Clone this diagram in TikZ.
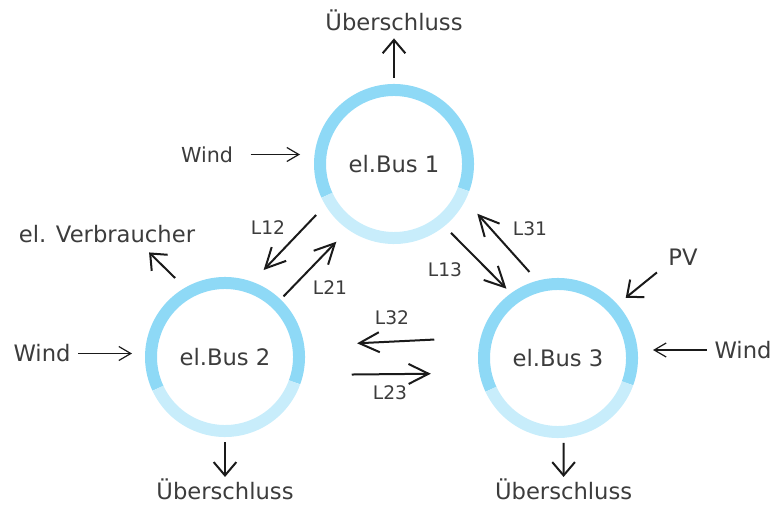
\documentclass[tikz,border=0pt]{standalone}
\usepackage{fontspec}
\setmainfont{DejaVu Sans}
\usetikzlibrary{arrows.meta,positioning}
\definecolor{ringtop}{HTML}{8ED9F6}
\definecolor{ringbot}{HTML}{C8EDFB}
\definecolor{labelgray}{HTML}{3C3C3C}
\definecolor{arrowink}{HTML}{1A1A1A}

\begin{document}
\begin{tikzpicture}[x=0.75pt, y=0.75pt,
    every node/.style={font=\fontsize{17}{20}\selectfont, text=labelgray, inner sep=0pt, outer sep=0pt},
    bus/.style={circle, minimum size=120pt},
    lname/.style={font=\fontsize{14}{16}\selectfont},
    thinarr/.style={-{Straight Barb[length=9pt, width=10.5pt]}, line width=0.9pt, arrowink},
    outarr/.style={-{Straight Barb[length=10pt, width=17pt]}, line width=1.5pt, arrowink},
    linkarr/.style={-{Straight Barb[length=15pt, width=15pt]}, line width=1.5pt, arrowink}]
  \useasboundingbox (0,0) rectangle (777,504);
  % busses
  \node[bus] (b1) at (394,340) {el.Bus 1};
  \node[bus] (b2) at (225,147) {el.Bus 2};
  \node[bus] (b3) at (558,146) {el.Bus 3};
  \foreach \b in {b1,b2,b3}{
    \draw[ringtop, line width=9pt] (\b) ++(-20:74) arc[start angle=-20, end angle=205, radius=74];
    \draw[ringbot, line width=9pt] (\b) ++(205:74) arc[start angle=205, end angle=340, radius=74];}
  % sources and sinks
  \node[anchor=base] (ueb1) at (394,473) {Überschluss};
  \node[font=\fontsize{15.5}{18}\selectfont] (wind1) at (207,349.5) {Wind};
  \node (verb) at (107,269.5) {el. Verbraucher};
  \node (wind2) at (42,150.5) {Wind};
  \node[anchor=base] (ueb2) at (225,5) {Überschluss};
  \node[anchor=base] (ueb3) at (563.6,5) {Überschluss};
  \node (pv) at (683,246.5) {PV};
  \node (wind3) at (743,154) {Wind};
  % line names
  \node[lname] (l12) at (268,276) {L12};
  \node[lname] (l21) at (330,216) {L21};
  \node[lname] (l13) at (445,234) {L13};
  \node[lname] (l31) at (530,275) {L31};
  \node[lname] (l32) at (392,186) {L32};
  \node[lname] (l23) at (390,111) {L23};
  \draw[thinarr, shorten <=13.2pt, shorten >=10.5pt] (wind1.east) -- (wind1.east -| b1.west);
  \draw[thinarr, shorten <=6pt, shorten >=9.75pt] (wind2.east) -- (wind2.east -| b2.west);
  \draw[thinarr, shorten <=6pt, shorten >=11.25pt] (wind3.west) -- (wind3.west -| b3.east);
  \draw[outarr, shorten <=4.5pt, shorten >=5.3pt] (b1.north) -- (ueb1.south);
  \draw[outarr, shorten <=3.75pt, shorten >=1pt] (b2.south) -- (ueb2.north);
  \draw[outarr, shorten <=3.75pt, shorten >=1pt] (b3.-86) -- (ueb3.north);
  \draw[outarr, shorten <=10.4pt, shorten >=9.8pt] (b2.120) -- (verb.-15);
  \draw[outarr, shorten <=11.1pt, shorten >=8pt] (pv.201.5) -- (b3.42.5);
  % lines between busses
  \draw[linkarr, shorten <=10.1pt, shorten >=12.2pt] (b1.211) -- (b2.70.5);
  \draw[linkarr, shorten <=3.2pt, shorten >=12.7pt] (b2.46.6) -- (b1.235.8);
  \draw[linkarr, shorten <=7.1pt, shorten >=4.8pt] (b1.309.1) -- (b3.126.5);
  \draw[linkarr, shorten <=8.8pt, shorten >=13.5pt] (b3.105.5) -- (b1.333);
  \draw[linkarr, shorten <=34.9pt, shorten >=39.7pt] (b3.165.7) -- (b2.8.6);
  \draw[linkarr, shorten <=36.6pt, shorten >=36.5pt] (b2.347.7) -- (b3.191.5);
\end{tikzpicture}
\end{document}
